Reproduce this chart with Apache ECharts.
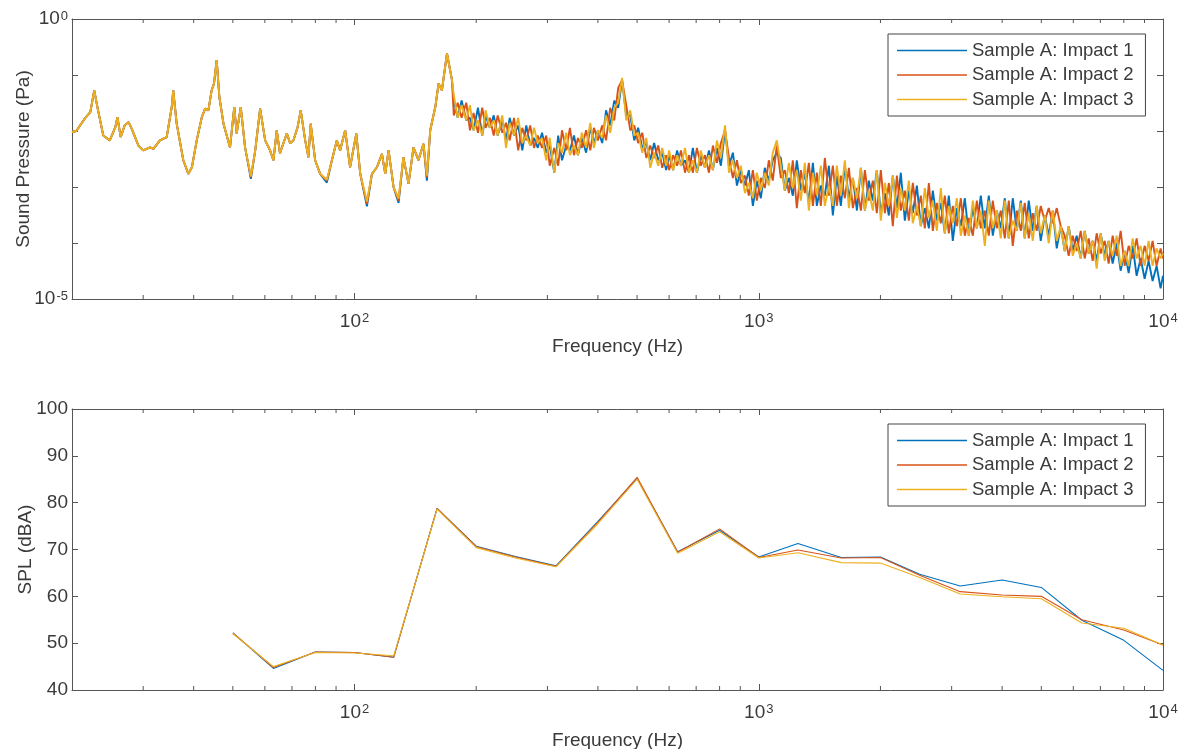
<!DOCTYPE html>
<html>
<head>
<meta charset="utf-8">
<script src="https://cdn.jsdelivr.net/npm/echarts@6/dist/echarts.min.js"></script>
<style>
  html, body { margin: 0; padding: 0; background: #ffffff; }
  #chart { width: 1186px; height: 749px; }
</style>
</head>
<body>
<div id="chart"></div>
<script>
// ---- data -------------------------------------------------------------
const seriesNames = ['Sample A: Impact 1', 'Sample A: Impact 2', 'Sample A: Impact 3'];
const lineColors = ['#0072BD', '#D95319', '#EDB120'];

// Narrowband spectrum frequencies (Hz)
const freqHz = [
  // 20 - 174 Hz
  20, 20.5, 21.5, 22.2, 22.7, 23.2, 23.9, 24.8, 25.6, 25.9,
  26.4, 27.0, 27.6, 28.1, 29.2, 30.0, 31.2, 31.8, 33.0, 34.3,
  35.3, 35.6, 36.3, 37.7, 38.8, 39.6, 40.7, 41.9, 42.7, 43.5,
  44.3, 44.9, 45.6, 46.3, 47.4, 49.2, 50.4, 51.1, 52.3, 53.6,
  55.4, 56.8, 58.4, 60.1, 61.8, 63.0, 64.2, 65.4, 68.0, 69.3,
  70.6, 72.3, 73.6, 75.5, 76.9, 77.9, 79.9, 82.2, 85.4, 87.9,
  90.4, 92.1, 94.8, 97.5, 101, 103.3, 107.3, 110.4, 113.6, 116.9,
  119.1, 121.4, 124.9, 128.5, 132.1, 136.0, 139.9, 143.9, 148.1, 151.0,
  153.9, 158.4, 161.4, 164.5, 169.3, 174.2,
  // 176 - 590 Hz
  176, 180, 184, 189, 193, 197, 202, 207, 211, 216,
  221, 226, 232, 237, 242, 248, 254, 260, 266, 272,
  278, 284, 291, 298, 304, 312, 319, 326, 334, 341,
  349, 357, 365, 374, 383, 391, 400, 410, 419, 429,
  439, 449, 459, 470, 481, 492, 503, 515, 527, 539,
  551, 564, 577, 590,
  // 600 Hz - 10 kHz
  600, 614, 628, 642, 657, 672, 687, 703, 719, 736,
  753, 770, 788, 806, 825, 844, 863, 883, 903, 924,
  945, 967, 989, 1012, 1035, 1059, 1083, 1108, 1134, 1160,
  1187, 1214, 1242, 1271, 1300, 1330, 1361, 1392, 1424, 1457,
  1491, 1525, 1560, 1596, 1633, 1671, 1709, 1749, 1789, 1830,
  1872, 1915, 1959, 2004, 2051, 2098, 2146, 2196, 2246, 2298,
  2351, 2405, 2461, 2517, 2575, 2635, 2695, 2757, 2821, 2886,
  2952, 3020, 3090, 3161, 3234, 3308, 3385, 3463, 3542, 3624,
  3707, 3793, 3880, 3969, 4061, 4154, 4250, 4348, 4448, 4550,
  4655, 4762, 4872, 4984, 5099, 5216, 5336, 5459, 5585, 5713,
  5845, 5979, 6117, 6258, 6402, 6549, 6700, 6854, 7012, 7173,
  7338, 7507, 7680, 7857, 8038, 8223, 8412, 8606, 8804, 9006,
  9213, 9425, 9642, 9864, 10000
];

// Sound pressure (Pa), impact 1
const impact1Pa = [
  9.6e-3, 1.0e-2, 1.66e-2, 2.18e-2, 5.3e-2, 2.34e-2, 8.3e-3, 6.8e-3, 1.17e-2, 1.77e-2,
  7.8e-3, 1.26e-2, 1.44e-2, 1.10e-2, 5.5e-3, 4.5e-3, 5.1e-3, 4.8e-3, 6.8e-3, 7.8e-3,
  2.68e-2, 5.3e-2, 1.37e-2, 3.0e-3, 1.72e-3, 2.25e-3, 6.8e-3, 1.77e-2, 2.51e-2, 2.34e-2,
  5.3e-2, 7.0e-2, 0.184, 4.05e-2, 1.35e-2, 5.1e-3, 2.68e-2, 9.1e-3, 2.68e-2, 5.1e-3,
  1.4e-3, 4.5e-3, 2.51e-2, 6.8e-3, 4.5e-3, 3.0e-3, 1.03e-2, 4.0e-3, 9.1e-3, 6.0e-3,
  6.8e-3, 1.17e-2, 2.34e-2, 6.8e-3, 3.4e-3, 1.35e-2, 3.0e-3, 1.72e-3, 1.2e-3, 3.0e-3,
  6.8e-3, 4.5e-3, 1.03e-2, 2.25e-3, 9.0e-3, 1.72e-3, 4.5e-4, 1.72e-3, 2.25e-3, 3.9e-3,
  1.72e-3, 4.5e-3, 9.9e-4, 5.2e-4, 3.4e-3, 1.14e-3, 5.1e-3, 3.0e-3, 5.9e-3, 1.3e-3,
  1.03e-2, 2.68e-2, 7.0e-2, 5.3e-2, 0.243, 8.1e-2,

  3.5e-2, 1.72e-2, 3.5e-2, 1.55e-2, 1.72e-2, 1.03e-2, 2.6e-2, 8.3e-3, 1.9e-2, 1.14e-2,
  1.9e-2, 8.3e-3, 1.55e-2, 6.8e-3, 1.72e-2, 8.3e-3, 1.26e-2, 4.5e-3, 1.26e-2, 5.5e-3,
  7.5e-3, 5.0e-3, 9.3e-3, 4.1e-3, 5.5e-3, 1.8e-3, 8.3e-3, 3.0e-3, 5.5e-3, 4.5e-3,
  8.3e-3, 3.7e-3, 7.5e-3, 4.1e-3, 1.14e-2, 6.1e-3, 1.03e-2, 6.1e-3, 2.34e-2, 1.26e-2,
  3.5e-2, 2.6e-2, 8.1e-2, 1.9e-2, 1.9e-2, 6.8e-3, 1.14e-2, 5.0e-3, 6.1e-3, 3.0e-3,
  6.1e-3, 3.0e-3, 4.1e-3, 2.0e-3,

  3.7e-3, 2.0e-3, 4.5e-3, 2.4e-3, 3.0e-3, 1.8e-3, 5.0e-3, 1.8e-3, 3.7e-3, 2.2e-3,
  4.5e-3, 2.0e-3, 5.0e-3, 2.4e-3, 1.03e-2, 2.4e-3, 4.1e-3, 1.06e-3, 2.0e-3, 1.06e-3,
  2.0e-3, 4.6e-4, 1.3e-3, 6.3e-4, 2.2e-3, 1.3e-3, 3.0e-3, 4.1e-3, 3.3e-3, 8.6e-4,
  1.45e-3, 7.0e-4, 3.0e-3, 8.6e-4, 1.8e-3, 5.2e-4, 2.7e-3, 4.6e-4, 1.06e-3, 7.0e-4,
  2.4e-3, 3.1e-4, 1.6e-3, 4.6e-4, 2.4e-3, 6.3e-4, 1.45e-3, 3.8e-4, 2.2e-3, 3.8e-4,
  1.3e-3, 5.7e-4, 2.0e-3, 3.4e-4, 7.8e-4, 3.1e-4, 1.6e-3, 4.2e-4, 1.8e-3, 2.5e-4,
  8.6e-4, 3.4e-4, 1.06e-3, 2.0e-4, 4.2e-4, 1.83e-4, 8.6e-4, 2.5e-4, 5.2e-4, 1.49e-4,
  7.0e-4, 1.09e-4, 4.2e-4, 2.0e-4, 6.3e-4, 1.35e-4, 4.2e-4, 1.83e-4, 7.0e-4, 1.83e-4,
  7.0e-4, 1.35e-4, 3.8e-4, 1.83e-4, 6.3e-4, 1.21e-4, 6.3e-4, 1.65e-4, 5.7e-4, 1.21e-4,
  5.7e-4, 1.65e-4, 4.6e-4, 1.09e-4, 3.1e-4, 1.35e-4, 3.8e-4, 8.0e-5, 2.0e-4, 7.2e-5,
  2.0e-4, 7.2e-5, 1.35e-4, 5.3e-5, 1.65e-4, 6.5e-5, 1.09e-4, 4.8e-5, 1.49e-4, 5.9e-5,
  1.09e-4, 4.3e-5, 9.9e-5, 3.2e-5, 7.2e-5, 2.9e-5, 8.9e-5, 2.6e-5, 5.3e-5, 2.3e-5,
  4.8e-5, 2.1e-5, 3.9e-5, 1.55e-5, 2.6e-5
];

// Sound pressure (Pa), impact 2
const impact2Pa = [
  9.6e-3, 1.0e-2, 1.66e-2, 2.18e-2, 5.3e-2, 2.34e-2, 8.3e-3, 6.8e-3, 1.17e-2, 1.77e-2,
  7.8e-3, 1.26e-2, 1.44e-2, 1.10e-2, 5.5e-3, 4.5e-3, 5.1e-3, 4.8e-3, 6.8e-3, 7.8e-3,
  2.68e-2, 5.3e-2, 1.37e-2, 3.0e-3, 1.72e-3, 2.25e-3, 6.8e-3, 1.77e-2, 2.51e-2, 2.34e-2,
  5.3e-2, 7.0e-2, 0.184, 4.05e-2, 1.35e-2, 5.1e-3, 2.68e-2, 9.1e-3, 2.68e-2, 5.1e-3,
  1.49e-3, 4.5e-3, 2.51e-2, 6.8e-3, 4.5e-3, 3.0e-3, 1.03e-2, 4.0e-3, 9.1e-3, 6.0e-3,
  6.8e-3, 1.17e-2, 2.34e-2, 6.8e-3, 3.4e-3, 1.35e-2, 3.0e-3, 1.72e-3, 1.3e-3, 3.0e-3,
  6.8e-3, 4.5e-3, 1.03e-2, 2.25e-3, 9.0e-3, 1.72e-3, 5.0e-4, 1.72e-3, 2.25e-3, 3.9e-3,
  1.72e-3, 4.5e-3, 9.9e-4, 5.7e-4, 3.4e-3, 1.14e-3, 5.1e-3, 3.0e-3, 5.9e-3, 1.49e-3,
  1.03e-2, 2.68e-2, 7.0e-2, 5.3e-2, 0.243, 8.1e-2,

  1.9e-2, 3.2e-2, 1.72e-2, 3.2e-2, 1.03e-2, 2.11e-2, 9.3e-3, 2.6e-2, 1.14e-2, 1.72e-2,
  8.3e-3, 1.9e-2, 9.3e-3, 1.4e-2, 6.8e-3, 1.72e-2, 4.5e-3, 1.14e-2, 6.8e-3, 1.26e-2,
  5.0e-3, 8.3e-3, 5.0e-3, 8.3e-3, 2.4e-3, 5.0e-3, 2.4e-3, 1.03e-2, 4.5e-3, 1.14e-2,
  3.7e-3, 7.5e-3, 5.0e-3, 1.03e-2, 4.5e-3, 1.14e-2, 6.8e-3, 1.26e-2, 6.8e-3, 2.6e-2,
  1.55e-2, 5.9e-2, 8.1e-2, 2.9e-2, 1.03e-2, 1.26e-2, 6.1e-3, 9.3e-3, 3.3e-3, 5.5e-3,
  3.3e-3, 5.5e-3, 2.2e-3, 3.7e-3,

  2.0e-3, 3.7e-3, 2.4e-3, 4.5e-3, 1.8e-3, 3.7e-3, 1.8e-3, 5.0e-3, 2.4e-3, 3.7e-3,
  1.8e-3, 5.5e-3, 2.7e-3, 6.1e-3, 1.03e-2, 3.3e-3, 1.45e-3, 3.0e-3, 1.18e-3, 1.6e-3,
  7.0e-4, 2.0e-3, 5.7e-4, 1.45e-3, 9.6e-4, 3.0e-3, 1.3e-3, 5.5e-3, 1.45e-3, 2.0e-3,
  7.8e-4, 3.0e-3, 4.2e-4, 2.0e-3, 7.8e-4, 2.7e-3, 4.6e-4, 1.8e-3, 4.6e-4, 3.3e-3,
  7.0e-4, 2.4e-3, 4.6e-4, 1.6e-3, 6.3e-4, 2.2e-3, 4.2e-4, 9.6e-4, 3.8e-4, 2.0e-3,
  5.7e-4, 1.3e-3, 3.4e-4, 2.0e-3, 3.4e-4, 1.18e-3, 2.0e-4, 1.6e-3, 3.8e-4, 8.6e-4,
  2.5e-4, 1.18e-3, 3.1e-4, 7.0e-4, 1.83e-4, 1.18e-3, 1.65e-4, 5.2e-4, 2.25e-4, 7.0e-4,
  1.49e-4, 4.6e-4, 2.0e-4, 6.3e-4, 1.35e-4, 2.8e-4, 1.35e-4, 5.7e-4, 1.83e-4, 3.8e-4,
  1.35e-4, 5.7e-4, 1.83e-4, 3.8e-4, 1.21e-4, 5.7e-4, 8.9e-5, 3.8e-4, 1.65e-4, 5.2e-4,
  1.21e-4, 3.4e-4, 1.65e-4, 4.6e-4, 2.5e-4, 4.2e-4, 2.25e-4, 4.2e-4, 2.0e-4, 1.35e-4,
  5.9e-5, 1.35e-4, 7.2e-5, 1.65e-4, 5.3e-5, 1.21e-4, 4.8e-5, 1.49e-4, 6.5e-5, 1.09e-4,
  4.3e-5, 1.35e-4, 5.9e-5, 1.65e-4, 3.9e-5, 8.9e-5, 5.3e-5, 1.21e-4, 3.9e-5, 8.9e-5,
  4.8e-5, 1.09e-4, 3.9e-5, 8.0e-5, 5.3e-5
];

// Sound pressure (Pa), impact 3
const impact3Pa = [
  9.6e-3, 1.0e-2, 1.66e-2, 2.18e-2, 5.3e-2, 2.34e-2, 8.3e-3, 6.8e-3, 1.17e-2, 1.77e-2,
  7.8e-3, 1.26e-2, 1.44e-2, 1.10e-2, 5.5e-3, 4.5e-3, 5.1e-3, 4.8e-3, 6.8e-3, 7.8e-3,
  2.68e-2, 5.3e-2, 1.37e-2, 3.0e-3, 1.72e-3, 2.25e-3, 6.8e-3, 1.77e-2, 2.51e-2, 2.34e-2,
  5.3e-2, 7.0e-2, 0.184, 4.05e-2, 1.35e-2, 5.1e-3, 2.68e-2, 9.1e-3, 2.68e-2, 5.1e-3,
  1.55e-3, 4.5e-3, 2.51e-2, 6.8e-3, 4.5e-3, 3.0e-3, 1.03e-2, 4.0e-3, 9.1e-3, 6.0e-3,
  6.8e-3, 1.17e-2, 2.34e-2, 6.8e-3, 3.4e-3, 1.35e-2, 3.0e-3, 1.72e-3, 1.35e-3, 3.0e-3,
  6.8e-3, 4.5e-3, 1.03e-2, 2.25e-3, 9.0e-3, 1.72e-3, 5.5e-4, 1.72e-3, 2.25e-3, 3.9e-3,
  1.72e-3, 4.5e-3, 9.9e-4, 6.2e-4, 3.4e-3, 1.14e-3, 5.1e-3, 3.0e-3, 5.9e-3, 1.6e-3,
  1.03e-2, 2.68e-2, 7.0e-2, 5.3e-2, 0.243, 8.1e-2,

  4.35e-2, 1.72e-2, 2.9e-2, 1.55e-2, 2.9e-2, 1.03e-2, 1.55e-2, 8.3e-3, 2.34e-2, 1.14e-2,
  1.55e-2, 8.3e-3, 1.9e-2, 5.0e-3, 1.4e-2, 8.3e-3, 1.72e-2, 6.1e-3, 8.3e-3, 5.5e-3,
  1.14e-2, 6.1e-3, 7.5e-3, 3.0e-3, 7.5e-3, 1.8e-3, 6.1e-3, 4.1e-3, 9.3e-3, 3.7e-3,
  5.5e-3, 3.7e-3, 9.3e-3, 5.0e-3, 1.4e-2, 5.0e-3, 1.03e-2, 7.5e-3, 1.9e-2, 9.3e-3,
  2.6e-2, 3.2e-2, 8.9e-2, 1.55e-2, 2.34e-2, 8.3e-3, 9.3e-3, 4.1e-3, 7.5e-3, 2.2e-3,
  4.1e-3, 2.4e-3, 5.0e-3, 2.4e-3,

  4.5e-3, 2.0e-3, 3.7e-3, 2.4e-3, 5.0e-3, 1.8e-3, 3.0e-3, 1.8e-3, 4.5e-3, 2.2e-3,
  3.7e-3, 2.0e-3, 6.8e-3, 3.3e-3, 1.26e-2, 1.8e-3, 3.0e-3, 1.45e-3, 2.4e-3, 7.8e-4,
  1.18e-3, 6.3e-4, 1.8e-3, 8.6e-4, 1.8e-3, 1.06e-3, 4.1e-3, 6.8e-3, 2.4e-3, 8.6e-4,
  2.7e-3, 9.6e-4, 2.0e-3, 5.7e-4, 2.7e-3, 3.8e-4, 1.8e-3, 7.0e-4, 2.4e-3, 4.6e-4,
  1.06e-3, 4.6e-4, 2.4e-3, 7.0e-4, 3.0e-3, 4.2e-4, 1.45e-3, 6.3e-4, 2.2e-3, 3.8e-4,
  8.6e-4, 3.8e-4, 2.0e-3, 2.5e-4, 1.18e-3, 4.6e-4, 1.6e-3, 2.8e-4, 9.6e-4, 3.8e-4,
  1.3e-3, 2.25e-4, 4.6e-4, 2.0e-4, 9.6e-4, 2.8e-4, 5.7e-4, 1.65e-4, 9.6e-4, 1.49e-4,
  4.6e-4, 2.25e-4, 6.3e-4, 1.35e-4, 3.1e-4, 1.35e-4, 5.7e-4, 1.83e-4, 3.8e-4, 8.9e-5,
  5.7e-4, 1.83e-4, 3.8e-4, 1.21e-4, 5.7e-4, 1.21e-4, 2.5e-4, 1.65e-4, 5.2e-4, 1.21e-4,
  3.4e-4, 1.09e-4, 4.6e-4, 1.49e-4, 3.1e-4, 9.9e-5, 3.8e-4, 1.09e-4, 2.0e-4, 7.2e-5,
  2.0e-4, 5.9e-5, 9.9e-5, 5.3e-5, 1.65e-4, 6.5e-5, 1.09e-4, 3.5e-5, 1.49e-4, 4.8e-5,
  1.09e-4, 5.9e-5, 1.35e-4, 3.9e-5, 7.2e-5, 3.9e-5, 1.21e-4, 5.3e-5, 8.9e-5, 3.9e-5,
  1.09e-4, 3.9e-5, 8.0e-5, 5.3e-5, 6.5e-5
];

// One-third-octave band centre frequencies (Hz)
const bandHz = [50, 63, 80, 100, 125, 160, 200, 250, 315, 400, 500, 630,
                800, 1000, 1250, 1600, 2000, 2500, 3150, 4000, 5000, 6300, 8000, 10000];

// A-weighted band levels (dBA)
const impact1dBA = [52.2, 44.6, 48.1, 48.0, 47.0, 78.8, 70.7, 68.5, 66.5, 76.0, 85.2, 69.5,
                    74.1, 68.4, 71.3, 68.3, 68.4, 64.7, 62.2, 63.5, 61.9, 54.9, 50.6, 44.2];
const impact2dBA = [52.2, 44.8, 48.1, 48.0, 47.0, 78.8, 70.6, 68.4, 66.4, 75.8, 85.4, 69.4,
                    74.4, 68.3, 69.9, 68.2, 68.3, 64.5, 61.0, 60.3, 60.0, 55.0, 52.8, 49.6];
const impact3dBA = [52.0, 45.0, 48.0, 47.9, 47.3, 78.6, 70.4, 68.2, 66.3, 75.5, 85.0, 69.2,
                    73.8, 68.2, 69.3, 67.2, 67.1, 64.0, 60.5, 59.9, 59.5, 54.3, 53.2, 49.6];

// Minor tick positions on the frequency axes (Hz)
const minorTickHz = [30, 40, 50, 60, 70, 80, 90,
                     200, 300, 400, 500, 600, 700, 800, 900,
                     2000, 3000, 4000, 5000, 6000, 7000, 8000, 9000];

// SPL axis range and tick step (dBA)
const splMin = 40, splMax = 100, splStep = 10;

// ---- styling ------------------------------------------------------------
const FONT = '"Liberation Sans", Arial, Helvetica, sans-serif';
const AXIS_COLOR = '#555555';
const TEXT_COLOR = '#3a3a3a';
const FS = 19;

const powRich = {
  e: { fontSize: 13, fontFamily: FONT, color: TEXT_COLOR, verticalAlign: 'top', padding: [0, 0, 0, 1] }
};

function decadeLabel(v) {
  const lg = Math.log10(v);
  const e = Math.round(lg);
  if (Math.abs(lg - e) > 1e-6) return '';
  return '10{e|' + e + '}';
}

function freqAxis(gridIndex, position, withLabels, nameGap) {
  return {
    type: 'log', logBase: 10, min: 20, max: 10000,
    gridIndex: gridIndex, position: position,
    axisLine: { show: true, onZero: false, lineStyle: { color: AXIS_COLOR, width: 1 } },
    axisTick: { show: true, inside: true, length: 6, lineStyle: { color: AXIS_COLOR, width: 1 } },
    axisLabel: {
      show: withLabels, formatter: decadeLabel, fontSize: FS, fontFamily: FONT,
      color: TEXT_COLOR, margin: 13, rich: powRich
    },
    splitLine: { show: false },
    name: withLabels ? 'Frequency (Hz)' : '',
    nameLocation: 'middle', nameGap: nameGap || 38, nameMoveOverlap: false,
    nameTextStyle: { fontSize: FS, fontFamily: FONT, color: TEXT_COLOR }
  };
}

function minorTickSeries(xAxisIndex, yAxisIndex, yLow, yHigh) {
  return {
    type: 'custom', xAxisIndex: xAxisIndex, yAxisIndex: yAxisIndex,
    silent: true, clip: false, z: 5,
    data: minorTickHz.map(f => [f, yLow, yHigh]),
    encode: { x: 0, y: [1, 2] },
    renderItem: function (params, api) {
      const b = api.coord([api.value(0), api.value(1)]);
      const t = api.coord([api.value(0), api.value(2)]);
      const st = { stroke: AXIS_COLOR, lineWidth: 1 };
      return {
        type: 'group',
        children: [
          { type: 'line', shape: { x1: b[0], y1: b[1], x2: b[0], y2: b[1] - 4 }, style: st },
          { type: 'line', shape: { x1: t[0], y1: t[1], x2: t[0], y2: t[1] + 4 }, style: st }
        ]
      };
    }
  };
}

function spectrumSeries(i, values) {
  return {
    name: seriesNames[i], type: 'line', xAxisIndex: 0, yAxisIndex: 0,
    data: freqHz.map((f, k) => [f, values[k]]),
    symbol: 'none', showSymbol: false,
    lineStyle: { color: lineColors[i], width: 1.9 },
    itemStyle: { color: lineColors[i] },
    z: 2
  };
}

function bandSeries(i, values) {
  return {
    name: seriesNames[i], type: 'line', xAxisIndex: 2, yAxisIndex: 2,
    data: bandHz.map((f, k) => [f, values[k]]),
    symbol: 'none', showSymbol: false,
    lineStyle: { color: lineColors[i], width: 1.1 },
    itemStyle: { color: lineColors[i] },
    z: 2
  };
}

function legendBox(top) {
  return {
    data: seriesNames, orient: 'vertical', left: 888, top: top,
    icon: 'rect', itemWidth: 70, itemHeight: 1.3, itemGap: 5.5,
    padding: [7, 12, 7, 9],
    borderColor: '#444444', borderWidth: 1, backgroundColor: '#ffffff',
    selectedMode: false,
    textStyle: { fontSize: 18.5, fontFamily: FONT, color: TEXT_COLOR }
  };
}

const chart = echarts.init(document.getElementById('chart'), null, { renderer: 'canvas' });

chart.setOption({
  animation: false,
  backgroundColor: '#ffffff',
  textStyle: { fontFamily: FONT },
  grid: [
    { left: 72, top: 19, width: 1091, height: 280, outerBoundsMode: 'none', containLabel: false },
    { left: 72, top: 409, width: 1091, height: 281, outerBoundsMode: 'none', containLabel: false }
  ],
  legend: [legendBox(34), legendBox(424)],
  xAxis: [
    freqAxis(0, 'bottom', true, 38),
    freqAxis(0, 'top', false),
    freqAxis(1, 'bottom', true, 41),
    freqAxis(1, 'top', false)
  ],
  yAxis: [
    {
      type: 'log', logBase: 10, min: 1e-5, max: 1, gridIndex: 0, position: 'left',
      axisLine: { show: true, lineStyle: { color: AXIS_COLOR, width: 1 } },
      axisTick: { show: true, inside: true, length: 6, lineStyle: { color: AXIS_COLOR } },
      axisLabel: {
        formatter: v => {
          const e = Math.round(Math.log10(v));
          return (e === 0 || e === -5) ? '10{e|' + e + '}' : '';
        },
        fontSize: FS, fontFamily: FONT, color: TEXT_COLOR, margin: 4, rich: powRich
      },
      splitLine: { show: false },
      name: 'Sound Pressure (Pa)', nameLocation: 'middle', nameGap: 39, nameMoveOverlap: false,
      nameTextStyle: { fontSize: FS, fontFamily: FONT, color: TEXT_COLOR }
    },
    {
      type: 'log', logBase: 10, min: 1e-5, max: 1, gridIndex: 0, position: 'right',
      axisLine: { show: true, lineStyle: { color: AXIS_COLOR, width: 1 } },
      axisTick: { show: true, inside: true, length: 6, lineStyle: { color: AXIS_COLOR } },
      axisLabel: { show: false },
      splitLine: { show: false }
    },
    {
      type: 'value', min: splMin, max: splMax, interval: splStep, gridIndex: 1, position: 'left',
      axisLine: { show: true, onZero: false, lineStyle: { color: AXIS_COLOR, width: 1 } },
      axisTick: { show: true, inside: true, length: 6, lineStyle: { color: AXIS_COLOR } },
      axisLabel: { fontSize: FS, fontFamily: FONT, color: TEXT_COLOR, margin: 4 },
      splitLine: { show: false },
      name: 'SPL (dBA)', nameLocation: 'middle', nameGap: 37, nameMoveOverlap: false,
      nameTextStyle: { fontSize: FS, fontFamily: FONT, color: TEXT_COLOR }
    },
    {
      type: 'value', min: splMin, max: splMax, interval: splStep, gridIndex: 1, position: 'right',
      axisLine: { show: true, onZero: false, lineStyle: { color: AXIS_COLOR, width: 1 } },
      axisTick: { show: true, inside: true, length: 6, lineStyle: { color: AXIS_COLOR } },
      axisLabel: { show: false },
      splitLine: { show: false }
    }
  ],
  series: [
    spectrumSeries(0, impact1Pa),
    spectrumSeries(1, impact2Pa),
    spectrumSeries(2, impact3Pa),
    bandSeries(0, impact1dBA),
    bandSeries(1, impact2dBA),
    bandSeries(2, impact3dBA),
    minorTickSeries(0, 0, 1e-5, 1),
    minorTickSeries(2, 2, splMin, splMax)
  ]
});
</script>
</body>
</html>
